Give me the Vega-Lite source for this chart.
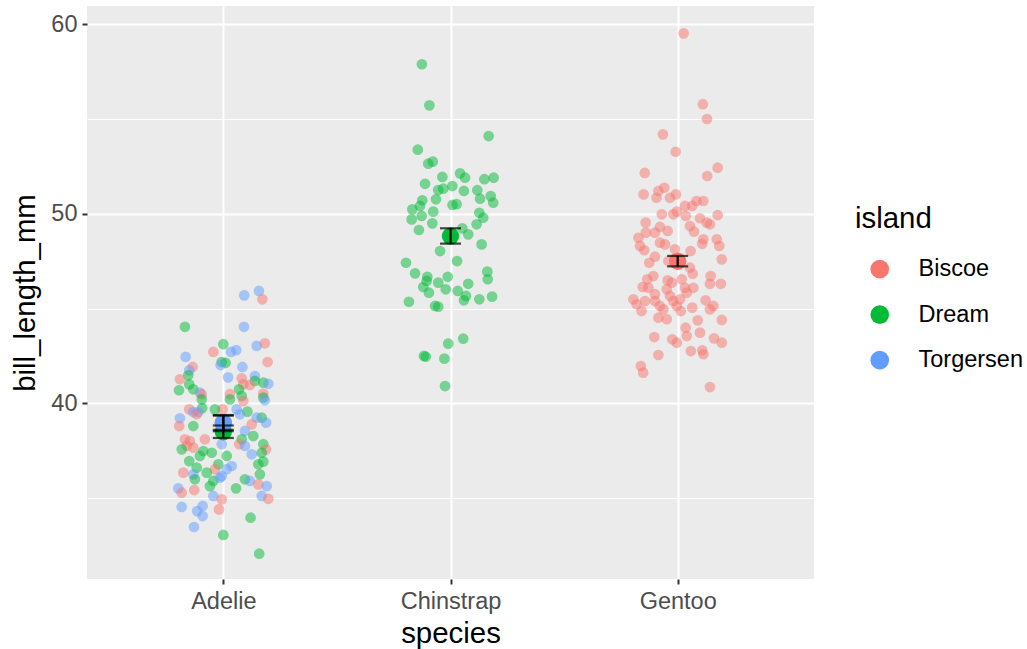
{
 "$schema": "https://vega.github.io/schema/vega-lite/v6.json",
 "width": 727,
 "height": 573,
 "autosize": {"type": "none"},
 "padding": {"left": 87, "top": 6, "right": 213, "bottom": 70},
 "background": "white",
 "config": {
  "view": {"fill": "#EBEBEB", "stroke": null},
  "font": "Liberation Sans",
  "axis": {"domain": false, "labelFont": "Liberation Sans", "labelFontSize": 23.5, "labelColor": "#4D4D4D", "titleFont": "Liberation Sans", "titleFontSize": 29.4, "titleFontWeight": "normal", "titleColor": "#000000", "tickColor": "#333333", "tickWidth": 2, "tickSize": 5, "gridColor": "#FFFFFF", "labelPadding": 5}
 },
 "datasets": {
  "pts": [
   {"species":"Adelie","island":"Torgersen","x":1.092,"bill_length_mm":45.70},
   {"species":"Adelie","island":"Torgersen","x":1.157,"bill_length_mm":45.93},
   {"species":"Adelie","island":"Biscoe","x":1.172,"bill_length_mm":45.49},
   {"species":"Adelie","island":"Dream","x":0.831,"bill_length_mm":44.04},
   {"species":"Adelie","island":"Torgersen","x":1.091,"bill_length_mm":44.04},
   {"species":"Adelie","island":"Dream","x":1.000,"bill_length_mm":43.12},
   {"species":"Adelie","island":"Biscoe","x":1.183,"bill_length_mm":43.17},
   {"species":"Adelie","island":"Torgersen","x":1.147,"bill_length_mm":43.03},
   {"species":"Adelie","island":"Torgersen","x":1.057,"bill_length_mm":42.81},
   {"species":"Adelie","island":"Torgersen","x":1.034,"bill_length_mm":42.71},
   {"species":"Adelie","island":"Biscoe","x":0.956,"bill_length_mm":42.71},
   {"species":"Adelie","island":"Torgersen","x":0.834,"bill_length_mm":42.45},
   {"species":"Adelie","island":"Biscoe","x":1.195,"bill_length_mm":42.18},
   {"species":"Adelie","island":"Dream","x":0.993,"bill_length_mm":42.18},
   {"species":"Adelie","island":"Dream","x":1.010,"bill_length_mm":42.14},
   {"species":"Adelie","island":"Torgersen","x":0.988,"bill_length_mm":42.02},
   {"species":"Adelie","island":"Biscoe","x":0.865,"bill_length_mm":41.92},
   {"species":"Adelie","island":"Torgersen","x":1.084,"bill_length_mm":41.92},
   {"species":"Adelie","island":"Torgersen","x":0.850,"bill_length_mm":41.74},
   {"species":"Adelie","island":"Dream","x":0.846,"bill_length_mm":41.48},
   {"species":"Adelie","island":"Biscoe","x":0.809,"bill_length_mm":41.27},
   {"species":"Adelie","island":"Torgersen","x":1.021,"bill_length_mm":41.37},
   {"species":"Adelie","island":"Biscoe","x":1.081,"bill_length_mm":41.32},
   {"species":"Adelie","island":"Torgersen","x":1.139,"bill_length_mm":41.44},
   {"species":"Adelie","island":"Dream","x":1.139,"bill_length_mm":41.18},
   {"species":"Adelie","island":"Biscoe","x":1.088,"bill_length_mm":41.00},
   {"species":"Adelie","island":"Dream","x":1.176,"bill_length_mm":41.09},
   {"species":"Adelie","island":"Torgersen","x":1.198,"bill_length_mm":41.03},
   {"species":"Adelie","island":"Biscoe","x":1.117,"bill_length_mm":40.97},
   {"species":"Adelie","island":"Dream","x":0.850,"bill_length_mm":41.00},
   {"species":"Adelie","island":"Dream","x":0.805,"bill_length_mm":40.69},
   {"species":"Adelie","island":"Dream","x":0.868,"bill_length_mm":40.74},
   {"species":"Adelie","island":"Torgersen","x":0.897,"bill_length_mm":40.56},
   {"species":"Adelie","island":"Biscoe","x":0.905,"bill_length_mm":40.48},
   {"species":"Adelie","island":"Dream","x":1.069,"bill_length_mm":40.74},
   {"species":"Adelie","island":"Biscoe","x":1.029,"bill_length_mm":40.48},
   {"species":"Adelie","island":"Dream","x":1.081,"bill_length_mm":40.39},
   {"species":"Adelie","island":"Biscoe","x":1.176,"bill_length_mm":40.51},
   {"species":"Adelie","island":"Dream","x":1.176,"bill_length_mm":40.30},
   {"species":"Adelie","island":"Torgersen","x":1.183,"bill_length_mm":40.16},
   {"species":"Adelie","island":"Dream","x":0.905,"bill_length_mm":40.21},
   {"species":"Adelie","island":"Dream","x":1.029,"bill_length_mm":40.21},
   {"species":"Adelie","island":"Biscoe","x":1.088,"bill_length_mm":40.12},
   {"species":"Adelie","island":"Dream","x":0.907,"bill_length_mm":39.74},
   {"species":"Adelie","island":"Biscoe","x":0.850,"bill_length_mm":39.68},
   {"species":"Adelie","island":"Torgersen","x":0.868,"bill_length_mm":39.54},
   {"species":"Adelie","island":"Torgersen","x":0.890,"bill_length_mm":39.54},
   {"species":"Adelie","island":"Biscoe","x":0.997,"bill_length_mm":39.68},
   {"species":"Adelie","island":"Dream","x":0.963,"bill_length_mm":39.68},
   {"species":"Adelie","island":"Torgersen","x":1.059,"bill_length_mm":39.68},
   {"species":"Adelie","island":"Dream","x":1.106,"bill_length_mm":39.56},
   {"species":"Adelie","island":"Torgersen","x":1.073,"bill_length_mm":39.42},
   {"species":"Adelie","island":"Torgersen","x":0.809,"bill_length_mm":39.21},
   {"species":"Adelie","island":"Dream","x":1.169,"bill_length_mm":39.24},
   {"species":"Adelie","island":"Biscoe","x":0.806,"bill_length_mm":38.80},
   {"species":"Adelie","island":"Biscoe","x":0.883,"bill_length_mm":39.42},
   {"species":"Adelie","island":"Torgersen","x":1.147,"bill_length_mm":39.24},
   {"species":"Adelie","island":"Torgersen","x":1.188,"bill_length_mm":38.98},
   {"species":"Adelie","island":"Biscoe","x":1.125,"bill_length_mm":38.89},
   {"species":"Adelie","island":"Dream","x":0.868,"bill_length_mm":38.80},
   {"species":"Adelie","island":"Torgersen","x":1.095,"bill_length_mm":38.54},
   {"species":"Adelie","island":"Dream","x":1.132,"bill_length_mm":38.27},
   {"species":"Adelie","island":"Biscoe","x":0.831,"bill_length_mm":38.10},
   {"species":"Adelie","island":"Biscoe","x":0.853,"bill_length_mm":38.01},
   {"species":"Adelie","island":"Biscoe","x":0.919,"bill_length_mm":38.10},
   {"species":"Adelie","island":"Dream","x":1.081,"bill_length_mm":38.10},
   {"species":"Adelie","island":"Biscoe","x":1.070,"bill_length_mm":37.84},
   {"species":"Adelie","island":"Torgersen","x":1.095,"bill_length_mm":37.75},
   {"species":"Adelie","island":"Biscoe","x":0.839,"bill_length_mm":37.75},
   {"species":"Adelie","island":"Dream","x":0.817,"bill_length_mm":37.57},
   {"species":"Adelie","island":"Biscoe","x":0.868,"bill_length_mm":37.66},
   {"species":"Adelie","island":"Dream","x":0.949,"bill_length_mm":37.39},
   {"species":"Adelie","island":"Dream","x":0.912,"bill_length_mm":37.48},
   {"species":"Adelie","island":"Dream","x":0.897,"bill_length_mm":37.22},
   {"species":"Adelie","island":"Torgersen","x":0.993,"bill_length_mm":37.84},
   {"species":"Adelie","island":"Dream","x":1.176,"bill_length_mm":37.84},
   {"species":"Adelie","island":"Biscoe","x":1.188,"bill_length_mm":37.57},
   {"species":"Adelie","island":"Torgersen","x":1.125,"bill_length_mm":37.31},
   {"species":"Adelie","island":"Dream","x":1.169,"bill_length_mm":37.39},
   {"species":"Adelie","island":"Dream","x":1.015,"bill_length_mm":37.22},
   {"species":"Adelie","island":"Dream","x":0.850,"bill_length_mm":36.95},
   {"species":"Adelie","island":"Dream","x":1.176,"bill_length_mm":36.92},
   {"species":"Adelie","island":"Dream","x":1.154,"bill_length_mm":36.78},
   {"species":"Adelie","island":"Torgersen","x":1.037,"bill_length_mm":36.69},
   {"species":"Adelie","island":"Dream","x":0.978,"bill_length_mm":36.78},
   {"species":"Adelie","island":"Biscoe","x":0.963,"bill_length_mm":36.52},
   {"species":"Adelie","island":"Torgersen","x":1.015,"bill_length_mm":36.52},
   {"species":"Adelie","island":"Dream","x":0.883,"bill_length_mm":36.60},
   {"species":"Adelie","island":"Biscoe","x":0.824,"bill_length_mm":36.34},
   {"species":"Adelie","island":"Torgersen","x":0.868,"bill_length_mm":36.25},
   {"species":"Adelie","island":"Dream","x":0.927,"bill_length_mm":36.34},
   {"species":"Adelie","island":"Torgersen","x":0.993,"bill_length_mm":36.16},
   {"species":"Adelie","island":"Dream","x":1.161,"bill_length_mm":36.25},
   {"species":"Adelie","island":"Dream","x":0.875,"bill_length_mm":35.99},
   {"species":"Adelie","island":"Dream","x":0.956,"bill_length_mm":35.90},
   {"species":"Adelie","island":"Torgersen","x":0.985,"bill_length_mm":36.07},
   {"species":"Adelie","island":"Dream","x":1.095,"bill_length_mm":35.99},
   {"species":"Adelie","island":"Torgersen","x":1.117,"bill_length_mm":35.90},
   {"species":"Adelie","island":"Biscoe","x":1.154,"bill_length_mm":35.72},
   {"species":"Adelie","island":"Torgersen","x":1.191,"bill_length_mm":35.63},
   {"species":"Adelie","island":"Dream","x":0.941,"bill_length_mm":35.63},
   {"species":"Adelie","island":"Dream","x":1.056,"bill_length_mm":35.51},
   {"species":"Adelie","island":"Torgersen","x":0.802,"bill_length_mm":35.51},
   {"species":"Adelie","island":"Biscoe","x":0.817,"bill_length_mm":35.28},
   {"species":"Adelie","island":"Biscoe","x":0.872,"bill_length_mm":35.42},
   {"species":"Adelie","island":"Torgersen","x":0.956,"bill_length_mm":35.11},
   {"species":"Adelie","island":"Torgersen","x":1.169,"bill_length_mm":35.11},
   {"species":"Adelie","island":"Biscoe","x":1.198,"bill_length_mm":34.96},
   {"species":"Adelie","island":"Biscoe","x":0.993,"bill_length_mm":34.93},
   {"species":"Adelie","island":"Torgersen","x":0.817,"bill_length_mm":34.53},
   {"species":"Adelie","island":"Torgersen","x":0.909,"bill_length_mm":34.58},
   {"species":"Adelie","island":"Torgersen","x":0.885,"bill_length_mm":34.31},
   {"species":"Adelie","island":"Biscoe","x":0.981,"bill_length_mm":34.40},
   {"species":"Adelie","island":"Torgersen","x":0.909,"bill_length_mm":34.05},
   {"species":"Adelie","island":"Dream","x":1.120,"bill_length_mm":33.96},
   {"species":"Adelie","island":"Torgersen","x":0.871,"bill_length_mm":33.47},
   {"species":"Adelie","island":"Dream","x":1.000,"bill_length_mm":33.05},
   {"species":"Adelie","island":"Dream","x":1.158,"bill_length_mm":32.06},
   {"species":"Chinstrap","island":"Dream","x":1.874,"bill_length_mm":57.90},
   {"species":"Chinstrap","island":"Dream","x":1.907,"bill_length_mm":55.73},
   {"species":"Chinstrap","island":"Dream","x":2.168,"bill_length_mm":54.11},
   {"species":"Chinstrap","island":"Dream","x":1.856,"bill_length_mm":53.39},
   {"species":"Chinstrap","island":"Dream","x":1.902,"bill_length_mm":52.65},
   {"species":"Chinstrap","island":"Dream","x":1.922,"bill_length_mm":52.76},
   {"species":"Chinstrap","island":"Dream","x":2.042,"bill_length_mm":52.14},
   {"species":"Chinstrap","island":"Dream","x":2.064,"bill_length_mm":51.91},
   {"species":"Chinstrap","island":"Dream","x":1.964,"bill_length_mm":51.95},
   {"species":"Chinstrap","island":"Dream","x":2.149,"bill_length_mm":51.83},
   {"species":"Chinstrap","island":"Dream","x":2.190,"bill_length_mm":51.91},
   {"species":"Chinstrap","island":"Dream","x":1.888,"bill_length_mm":51.59},
   {"species":"Chinstrap","island":"Dream","x":2.008,"bill_length_mm":51.47},
   {"species":"Chinstrap","island":"Dream","x":1.946,"bill_length_mm":51.26},
   {"species":"Chinstrap","island":"Dream","x":1.968,"bill_length_mm":51.33},
   {"species":"Chinstrap","island":"Dream","x":2.059,"bill_length_mm":51.21},
   {"species":"Chinstrap","island":"Dream","x":2.118,"bill_length_mm":51.25},
   {"species":"Chinstrap","island":"Dream","x":1.876,"bill_length_mm":50.72},
   {"species":"Chinstrap","island":"Dream","x":1.936,"bill_length_mm":50.77},
   {"species":"Chinstrap","island":"Dream","x":2.130,"bill_length_mm":50.80},
   {"species":"Chinstrap","island":"Dream","x":2.177,"bill_length_mm":50.94},
   {"species":"Chinstrap","island":"Dream","x":2.188,"bill_length_mm":50.59},
   {"species":"Chinstrap","island":"Dream","x":1.832,"bill_length_mm":50.24},
   {"species":"Chinstrap","island":"Dream","x":1.866,"bill_length_mm":50.42},
   {"species":"Chinstrap","island":"Dream","x":1.924,"bill_length_mm":50.12},
   {"species":"Chinstrap","island":"Dream","x":2.009,"bill_length_mm":50.47},
   {"species":"Chinstrap","island":"Dream","x":2.027,"bill_length_mm":50.51},
   {"species":"Chinstrap","island":"Dream","x":2.127,"bill_length_mm":50.06},
   {"species":"Chinstrap","island":"Dream","x":1.873,"bill_length_mm":49.89},
   {"species":"Chinstrap","island":"Dream","x":1.829,"bill_length_mm":49.71},
   {"species":"Chinstrap","island":"Dream","x":2.144,"bill_length_mm":49.80},
   {"species":"Chinstrap","island":"Dream","x":1.920,"bill_length_mm":49.50},
   {"species":"Chinstrap","island":"Dream","x":1.861,"bill_length_mm":49.15},
   {"species":"Chinstrap","island":"Dream","x":2.115,"bill_length_mm":49.45},
   {"species":"Chinstrap","island":"Dream","x":2.052,"bill_length_mm":49.24},
   {"species":"Chinstrap","island":"Dream","x":2.078,"bill_length_mm":48.92},
   {"species":"Chinstrap","island":"Dream","x":2.137,"bill_length_mm":48.39},
   {"species":"Chinstrap","island":"Dream","x":1.954,"bill_length_mm":48.04},
   {"species":"Chinstrap","island":"Dream","x":1.804,"bill_length_mm":47.42},
   {"species":"Chinstrap","island":"Dream","x":2.029,"bill_length_mm":47.51},
   {"species":"Chinstrap","island":"Dream","x":1.844,"bill_length_mm":46.86},
   {"species":"Chinstrap","island":"Dream","x":1.898,"bill_length_mm":46.68},
   {"species":"Chinstrap","island":"Dream","x":1.988,"bill_length_mm":46.68},
   {"species":"Chinstrap","island":"Dream","x":2.162,"bill_length_mm":46.95},
   {"species":"Chinstrap","island":"Dream","x":2.164,"bill_length_mm":46.55},
   {"species":"Chinstrap","island":"Dream","x":1.880,"bill_length_mm":46.14},
   {"species":"Chinstrap","island":"Dream","x":1.895,"bill_length_mm":46.46},
   {"species":"Chinstrap","island":"Dream","x":1.946,"bill_length_mm":46.37},
   {"species":"Chinstrap","island":"Dream","x":2.078,"bill_length_mm":46.31},
   {"species":"Chinstrap","island":"Dream","x":1.905,"bill_length_mm":45.84},
   {"species":"Chinstrap","island":"Dream","x":1.979,"bill_length_mm":46.02},
   {"species":"Chinstrap","island":"Dream","x":2.032,"bill_length_mm":45.93},
   {"species":"Chinstrap","island":"Dream","x":2.068,"bill_length_mm":45.67},
   {"species":"Chinstrap","island":"Dream","x":2.059,"bill_length_mm":45.44},
   {"species":"Chinstrap","island":"Dream","x":2.127,"bill_length_mm":45.49},
   {"species":"Chinstrap","island":"Dream","x":2.183,"bill_length_mm":45.63},
   {"species":"Chinstrap","island":"Dream","x":1.817,"bill_length_mm":45.36},
   {"species":"Chinstrap","island":"Dream","x":1.932,"bill_length_mm":45.14},
   {"species":"Chinstrap","island":"Dream","x":1.946,"bill_length_mm":45.10},
   {"species":"Chinstrap","island":"Dream","x":2.056,"bill_length_mm":43.41},
   {"species":"Chinstrap","island":"Dream","x":1.990,"bill_length_mm":43.15},
   {"species":"Chinstrap","island":"Dream","x":1.883,"bill_length_mm":42.50},
   {"species":"Chinstrap","island":"Dream","x":1.891,"bill_length_mm":42.46},
   {"species":"Chinstrap","island":"Dream","x":1.973,"bill_length_mm":42.36},
   {"species":"Chinstrap","island":"Dream","x":1.976,"bill_length_mm":40.91},
   {"species":"Gentoo","island":"Biscoe","x":3.026,"bill_length_mm":59.53},
   {"species":"Gentoo","island":"Biscoe","x":3.111,"bill_length_mm":55.79},
   {"species":"Gentoo","island":"Biscoe","x":3.129,"bill_length_mm":55.01},
   {"species":"Gentoo","island":"Biscoe","x":2.935,"bill_length_mm":54.20},
   {"species":"Gentoo","island":"Biscoe","x":2.991,"bill_length_mm":53.28},
   {"species":"Gentoo","island":"Biscoe","x":2.855,"bill_length_mm":52.16},
   {"species":"Gentoo","island":"Biscoe","x":3.176,"bill_length_mm":52.44},
   {"species":"Gentoo","island":"Biscoe","x":3.130,"bill_length_mm":52.00},
   {"species":"Gentoo","island":"Biscoe","x":2.941,"bill_length_mm":51.38},
   {"species":"Gentoo","island":"Biscoe","x":2.915,"bill_length_mm":51.21},
   {"species":"Gentoo","island":"Biscoe","x":2.850,"bill_length_mm":51.03},
   {"species":"Gentoo","island":"Biscoe","x":2.992,"bill_length_mm":51.03},
   {"species":"Gentoo","island":"Biscoe","x":2.907,"bill_length_mm":50.85},
   {"species":"Gentoo","island":"Biscoe","x":2.966,"bill_length_mm":50.85},
   {"species":"Gentoo","island":"Biscoe","x":3.083,"bill_length_mm":50.68},
   {"species":"Gentoo","island":"Biscoe","x":3.113,"bill_length_mm":50.68},
   {"species":"Gentoo","island":"Biscoe","x":3.032,"bill_length_mm":50.42},
   {"species":"Gentoo","island":"Biscoe","x":3.064,"bill_length_mm":50.42},
   {"species":"Gentoo","island":"Biscoe","x":2.930,"bill_length_mm":49.98},
   {"species":"Gentoo","island":"Biscoe","x":2.981,"bill_length_mm":49.98},
   {"species":"Gentoo","island":"Biscoe","x":2.996,"bill_length_mm":50.12},
   {"species":"Gentoo","island":"Biscoe","x":3.036,"bill_length_mm":49.89},
   {"species":"Gentoo","island":"Biscoe","x":3.176,"bill_length_mm":49.94},
   {"species":"Gentoo","island":"Biscoe","x":3.098,"bill_length_mm":49.77},
   {"species":"Gentoo","island":"Biscoe","x":3.128,"bill_length_mm":49.54},
   {"species":"Gentoo","island":"Biscoe","x":3.142,"bill_length_mm":49.45},
   {"species":"Gentoo","island":"Biscoe","x":2.859,"bill_length_mm":49.54},
   {"species":"Gentoo","island":"Biscoe","x":3.054,"bill_length_mm":49.36},
   {"species":"Gentoo","island":"Biscoe","x":3.072,"bill_length_mm":49.06},
   {"species":"Gentoo","island":"Biscoe","x":2.922,"bill_length_mm":49.31},
   {"species":"Gentoo","island":"Biscoe","x":2.956,"bill_length_mm":49.10},
   {"species":"Gentoo","island":"Biscoe","x":2.900,"bill_length_mm":49.01},
   {"species":"Gentoo","island":"Biscoe","x":2.860,"bill_length_mm":49.01},
   {"species":"Gentoo","island":"Biscoe","x":2.827,"bill_length_mm":48.74},
   {"species":"Gentoo","island":"Biscoe","x":3.113,"bill_length_mm":48.66},
   {"species":"Gentoo","island":"Biscoe","x":3.172,"bill_length_mm":48.66},
   {"species":"Gentoo","island":"Biscoe","x":2.922,"bill_length_mm":48.48},
   {"species":"Gentoo","island":"Biscoe","x":2.944,"bill_length_mm":48.39},
   {"species":"Gentoo","island":"Biscoe","x":3.108,"bill_length_mm":48.42},
   {"species":"Gentoo","island":"Biscoe","x":3.183,"bill_length_mm":48.31},
   {"species":"Gentoo","island":"Biscoe","x":2.834,"bill_length_mm":48.31},
   {"species":"Gentoo","island":"Biscoe","x":2.853,"bill_length_mm":48.08},
   {"species":"Gentoo","island":"Biscoe","x":2.988,"bill_length_mm":48.13},
   {"species":"Gentoo","island":"Biscoe","x":3.057,"bill_length_mm":48.04},
   {"species":"Gentoo","island":"Biscoe","x":2.900,"bill_length_mm":47.74},
   {"species":"Gentoo","island":"Biscoe","x":3.194,"bill_length_mm":47.60},
   {"species":"Gentoo","island":"Biscoe","x":2.875,"bill_length_mm":47.42},
   {"species":"Gentoo","island":"Biscoe","x":2.959,"bill_length_mm":47.51},
   {"species":"Gentoo","island":"Biscoe","x":3.054,"bill_length_mm":47.16},
   {"species":"Gentoo","island":"Biscoe","x":3.066,"bill_length_mm":46.84},
   {"species":"Gentoo","island":"Biscoe","x":2.893,"bill_length_mm":46.72},
   {"species":"Gentoo","island":"Biscoe","x":3.145,"bill_length_mm":46.72},
   {"species":"Gentoo","island":"Biscoe","x":2.866,"bill_length_mm":46.55},
   {"species":"Gentoo","island":"Biscoe","x":2.956,"bill_length_mm":46.49},
   {"species":"Gentoo","island":"Biscoe","x":3.018,"bill_length_mm":46.55},
   {"species":"Gentoo","island":"Biscoe","x":2.974,"bill_length_mm":46.37},
   {"species":"Gentoo","island":"Biscoe","x":3.142,"bill_length_mm":46.31},
   {"species":"Gentoo","island":"Biscoe","x":3.190,"bill_length_mm":46.31},
   {"species":"Gentoo","island":"Biscoe","x":2.846,"bill_length_mm":46.14},
   {"species":"Gentoo","island":"Biscoe","x":2.871,"bill_length_mm":46.10},
   {"species":"Gentoo","island":"Biscoe","x":2.952,"bill_length_mm":46.02},
   {"species":"Gentoo","island":"Biscoe","x":3.032,"bill_length_mm":46.10},
   {"species":"Gentoo","island":"Biscoe","x":3.069,"bill_length_mm":46.10},
   {"species":"Gentoo","island":"Biscoe","x":2.900,"bill_length_mm":45.76},
   {"species":"Gentoo","island":"Biscoe","x":2.966,"bill_length_mm":45.67},
   {"species":"Gentoo","island":"Biscoe","x":3.040,"bill_length_mm":45.84},
   {"species":"Gentoo","island":"Biscoe","x":2.805,"bill_length_mm":45.49},
   {"species":"Gentoo","island":"Biscoe","x":2.856,"bill_length_mm":45.40},
   {"species":"Gentoo","island":"Biscoe","x":2.900,"bill_length_mm":45.40},
   {"species":"Gentoo","island":"Biscoe","x":2.981,"bill_length_mm":45.40},
   {"species":"Gentoo","island":"Biscoe","x":3.010,"bill_length_mm":45.49},
   {"species":"Gentoo","island":"Biscoe","x":3.123,"bill_length_mm":45.44},
   {"species":"Gentoo","island":"Biscoe","x":2.819,"bill_length_mm":45.23},
   {"species":"Gentoo","island":"Biscoe","x":2.922,"bill_length_mm":45.14},
   {"species":"Gentoo","island":"Biscoe","x":2.996,"bill_length_mm":45.14},
   {"species":"Gentoo","island":"Biscoe","x":3.157,"bill_length_mm":45.14},
   {"species":"Gentoo","island":"Biscoe","x":2.937,"bill_length_mm":44.96},
   {"species":"Gentoo","island":"Biscoe","x":2.841,"bill_length_mm":44.87},
   {"species":"Gentoo","island":"Biscoe","x":3.014,"bill_length_mm":44.87},
   {"species":"Gentoo","island":"Biscoe","x":3.064,"bill_length_mm":45.05},
   {"species":"Gentoo","island":"Biscoe","x":3.142,"bill_length_mm":44.96},
   {"species":"Gentoo","island":"Biscoe","x":2.915,"bill_length_mm":44.52},
   {"species":"Gentoo","island":"Biscoe","x":2.952,"bill_length_mm":44.44},
   {"species":"Gentoo","island":"Biscoe","x":3.088,"bill_length_mm":44.38},
   {"species":"Gentoo","island":"Biscoe","x":3.194,"bill_length_mm":44.40},
   {"species":"Gentoo","island":"Biscoe","x":3.035,"bill_length_mm":43.99},
   {"species":"Gentoo","island":"Biscoe","x":3.098,"bill_length_mm":43.73},
   {"species":"Gentoo","island":"Biscoe","x":2.897,"bill_length_mm":43.50},
   {"species":"Gentoo","island":"Biscoe","x":3.040,"bill_length_mm":43.55},
   {"species":"Gentoo","island":"Biscoe","x":2.976,"bill_length_mm":43.38},
   {"species":"Gentoo","island":"Biscoe","x":2.996,"bill_length_mm":43.20},
   {"species":"Gentoo","island":"Biscoe","x":3.160,"bill_length_mm":43.43},
   {"species":"Gentoo","island":"Biscoe","x":3.194,"bill_length_mm":43.20},
   {"species":"Gentoo","island":"Biscoe","x":3.058,"bill_length_mm":42.76},
   {"species":"Gentoo","island":"Biscoe","x":3.108,"bill_length_mm":42.80},
   {"species":"Gentoo","island":"Biscoe","x":3.113,"bill_length_mm":42.59},
   {"species":"Gentoo","island":"Biscoe","x":2.915,"bill_length_mm":42.55},
   {"species":"Gentoo","island":"Biscoe","x":2.838,"bill_length_mm":41.97},
   {"species":"Gentoo","island":"Biscoe","x":2.848,"bill_length_mm":41.62},
   {"species":"Gentoo","island":"Biscoe","x":3.142,"bill_length_mm":40.86}
  ],
  "stats": [
   {"species":"Adelie","island":"Biscoe","x":1,"mean":38.98,"lo":38.60,"hi":39.35},
   {"species":"Adelie","island":"Dream","x":1,"mean":38.50,"lo":38.17,"hi":38.83},
   {"species":"Adelie","island":"Torgersen","x":1,"mean":38.95,"lo":38.53,"hi":39.38},
   {"species":"Chinstrap","island":"Dream","x":2,"mean":48.83,"lo":48.43,"hi":49.24},
   {"species":"Gentoo","island":"Biscoe","x":3,"mean":47.50,"lo":47.23,"hi":47.78}
  ]
 },
 "layer": [
  {
   "data": {"name": "pts"},
   "mark": {"type": "circle", "size": 115, "opacity": 0.5},
   "encoding": {
    "x": {"field": "x", "type": "quantitative", "title": "species",
     "scale": {"domain": [0.4, 3.6], "nice": false, "zero": false},
     "axis": {"values": [1, 2, 3], "labelExpr": "datum.value == 1 ? 'Adelie' : datum.value == 2 ? 'Chinstrap' : 'Gentoo'", "grid": true, "gridWidth": 2, "titlePadding": 7, "labelFlush": false, "labelOverlap": false}},
    "y": {"field": "bill_length_mm", "type": "quantitative", "title": "bill_length_mm",
     "scale": {"domain": [30.725, 60.975], "nice": false, "zero": false},
     "axis": {"values": [35, 40, 45, 50, 55, 60], "labelExpr": "datum.value % 10 == 0 ? datum.label : ''", "grid": true,
      "gridWidth": {"condition": {"test": "datum.value % 10 != 0", "value": 1}, "value": 2},
      "tickOpacity": {"condition": {"test": "datum.value % 10 != 0", "value": 0}, "value": 1},
      "titlePadding": 10}},
    "color": {"field": "island", "type": "nominal",
     "scale": {"domain": ["Biscoe", "Dream", "Torgersen"], "range": ["#F8766D", "#00BA38", "#619CFF"]},
     "legend": {"orient": "none", "legendX": 768, "legendY": 199, "title": "island", "titleFont": "Liberation Sans", "titleFontSize": 29.4, "titleFontWeight": "normal", "titleColor": "#000000", "titlePadding": 23, "labelFont": "Liberation Sans", "labelFontSize": 23.5, "labelColor": "#000000", "symbolType": "circle", "symbolSize": 346, "symbolOpacity": 1, "symbolStrokeWidth": 0, "symbolOffset": 13, "labelOffset": 27, "rowPadding": 20.5}}
   }
  },
  {
   "data": {"name": "stats"},
   "mark": {"type": "circle", "size": 300, "opacity": 1},
   "encoding": {
    "x": {"field": "x", "type": "quantitative", "title": "species"},
    "y": {"field": "mean", "type": "quantitative", "title": "bill_length_mm"},
    "color": {"field": "island", "type": "nominal"}
   }
  },
  {
   "data": {"name": "stats"},
   "mark": {"type": "errorbar", "color": "#000000", "thickness": 2.2, "ticks": {"size": 21, "thickness": 2.2, "color": "#000000"}},
   "encoding": {
    "x": {"field": "x", "type": "quantitative", "title": "species"},
    "y": {"field": "lo", "type": "quantitative", "title": "bill_length_mm"},
    "y2": {"field": "hi"}
   }
  }
 ]
}
